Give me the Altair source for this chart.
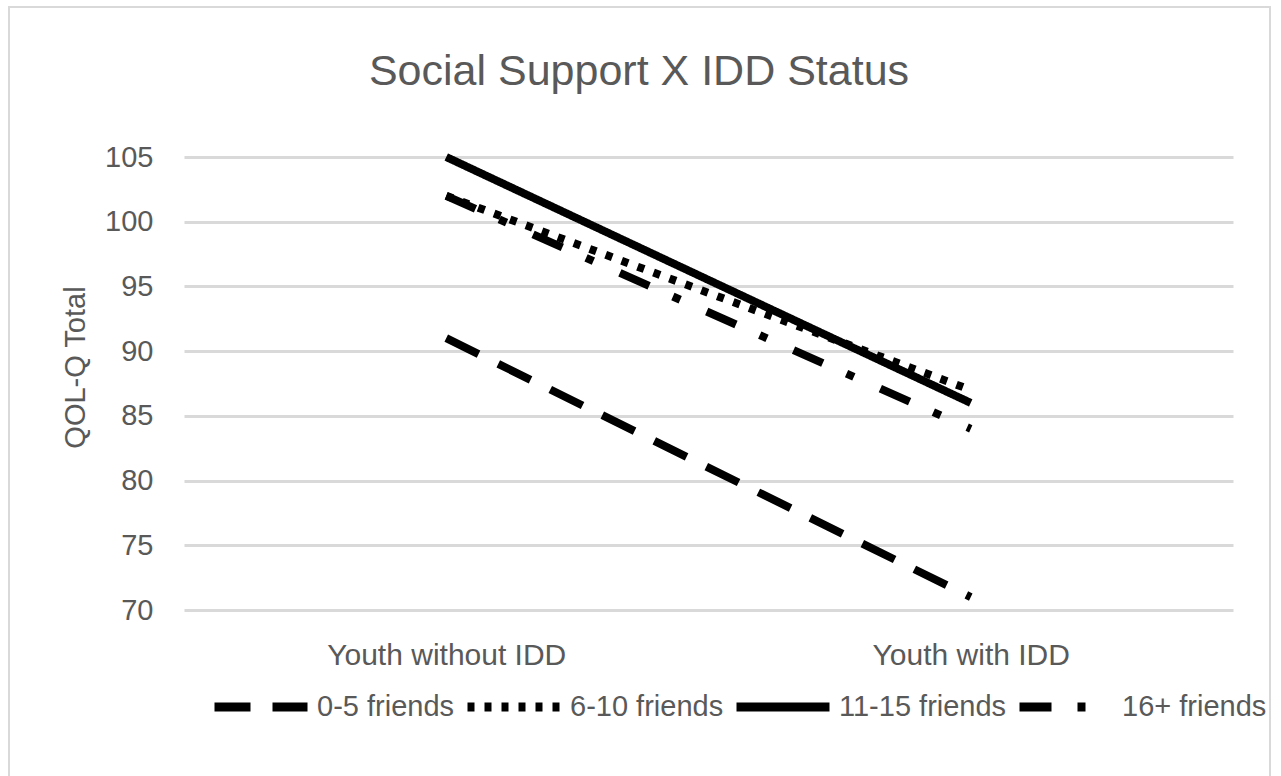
import altair as alt
import pandas as pd

# Category labels and values (QOL-Q total score)
groups = ["Youth without IDD", "Youth with IDD"]
series = ["0-5 friends", "6-10 friends", "11-15 friends", "16+ friends"]
qol_without_idd = [91, 102, 105, 102]
qol_with_idd = [71, 87, 86, 84]
y_ticks = [70, 75, 80, 85, 90, 95, 100, 105]

chart_title = "Social Support X IDD Status"
y_title = "QOL-Q Total"

# Line styles per friend group: dash, round dot, solid, dash-dot
dash_patterns = [[36, 22], [7, 10], [1, 0], [32, 26, 8, 29]]

FONT = "Liberation Sans"
TEXT = "#595959"
GRID = "#d9d9d9"

rows = []
for i, s in enumerate(series):
    rows.append({"group": groups[0], "friends": s, "qol": qol_without_idd[i]})
    rows.append({"group": groups[1], "friends": s, "qol": qol_with_idd[i]})
df = pd.DataFrame(rows)

lines = alt.Chart(df).mark_line(color="black", strokeWidth=8, strokeCap="butt").encode(
    x=alt.X(
        "group:N",
        sort=groups,
        scale=alt.Scale(type="point", padding=0.5),
        axis=alt.Axis(
            title=None, domain=False, ticks=False, grid=False,
            labelFont=FONT, labelFontSize=30, labelColor=TEXT,
            labelPadding=30, labelAngle=0, labelLimit=400,
        ),
    ),
    y=alt.Y(
        "qol:Q",
        scale=alt.Scale(domain=[70, 105], nice=False, zero=False),
        axis=alt.Axis(
            values=y_ticks, domain=False, ticks=False,
            grid=True, gridColor=GRID, gridWidth=3,
            labelFont=FONT, labelFontSize=29, labelColor=TEXT, labelPadding=31,
            title=y_title, titleFont=FONT, titleFontSize=29, titleColor=TEXT,
            titleFontWeight="normal", titleAngle=270, titleAlign="center",
            titleBaseline="middle", titleX=-109, titleY=210,
        ),
    ),
    strokeDash=alt.StrokeDash(
        "friends:N",
        sort=series,
        scale=alt.Scale(domain=series, range=dash_patterns),
        legend=alt.Legend(
            title=None, orient="none", legendX=26, legendY=499,
            direction="horizontal", columns=4, padding=0,
            symbolType="stroke", symbolSize=8649, symbolStrokeWidth=9,
            symbolStrokeColor="black",
            labelFont=FONT, labelFontSize=29, labelColor=TEXT,
            labelOffset=5, columnPadding=-6, labelLimit=400,
        ),
    ),
)

# Outer chart frame
frame = alt.Chart(alt.Data(values=[{"k": 1}])).mark_rect(
    fillOpacity=0, stroke=GRID, strokeWidth=2
).encode(
    x=alt.value(-175), x2=alt.value(1086), y=alt.value(-150), y2=alt.value(633)
)

# Chart heading
heading = alt.Chart(alt.Data(values=[{"label": chart_title}])).mark_text(
    font=FONT, fontSize=43, color=TEXT, align="center", baseline="alphabetic"
).encode(
    text="label:N", x=alt.value(455), y=alt.value(-72)
)

chart = alt.layer(frame, lines, heading).properties(
    width=1049,
    height=453,
    padding={"left": 184, "top": 157, "right": 48, "bottom": 166},
    autosize="none",
    background="white",
).configure_view(strokeWidth=0)

chart.save("out.html", embed_options={"renderer": "svg", "actions": False})
